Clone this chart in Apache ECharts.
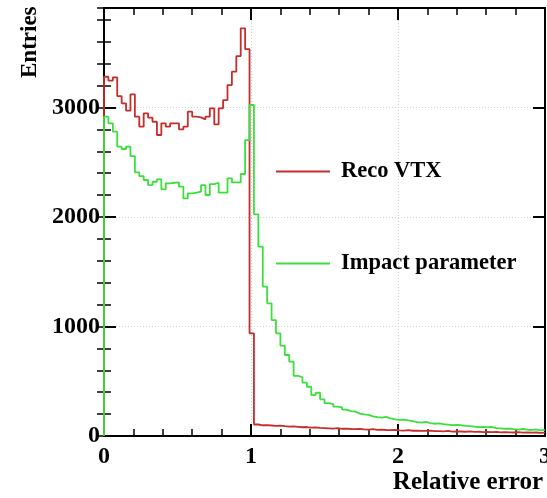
<!DOCTYPE html>
<html>
<head>
<meta charset="utf-8">
<script src="https://cdn.jsdelivr.net/npm/echarts@6/dist/echarts.min.js"></script>
<style>html,body{margin:0;padding:0;background:#fff;}#c{width:547px;height:498px;}</style>
</head>
<body>
<div id="c"></div>
<script>
// Histogram definition: 100 bins from 0 to 3
const histMin = 0;
const histMax = 3;
const nBins = 100;

const recoVtx = [
  3281, 3245, 3276, 3105, 3038, 2971, 3121, 2916, 2825, 2947,
  2907, 2870, 2749, 2856, 2825, 2856, 2856, 2801, 2825, 2962,
  2916, 2910, 2892, 2916, 2993, 2847, 2993, 3068, 3205, 3327,
  3470, 3723, 3534, 938, 105, 98, 100, 96, 92, 95,
  90, 86, 88, 84, 80, 82, 76, 78, 74, 72,
  70, 68, 72, 66, 68, 64, 62, 65, 60, 58,
  62, 56, 58, 55, 54, 56, 52, 50, 53, 48,
  50, 47, 46, 49, 44, 45, 42, 46, 40, 43,
  41, 39, 42, 38, 40, 36, 38, 35, 37, 33,
  36, 34, 32, 35, 31, 33, 30, 32, 29, 31
];

const impactParam = [
  2916, 2856, 2779, 2642, 2621, 2642, 2557, 2408, 2374, 2338,
  2292, 2322, 2344, 2253, 2308, 2313, 2316, 2277, 2171, 2216,
  2222, 2231, 2292, 2201, 2301, 2313, 2222, 2222, 2353, 2316,
  2316, 2393, 2703, 3023, 2025, 1729, 1364, 1212, 1059, 938,
  825, 740, 679, 550, 535, 487, 450, 374, 395, 335,
  300, 290, 268, 262, 240, 228, 222, 205, 198, 192,
  180, 172, 168, 175, 160, 152, 148, 150, 142, 135,
  126, 122, 128, 118, 112, 116, 108, 104, 100, 102,
  98, 92, 90, 86, 80, 84, 80, 82, 72, 70,
  66, 68, 62, 58, 64, 58, 55, 60, 52, 56
];

const seriesNames = ['Reco VTX', 'Impact parameter'];
const seriesColors = ['#c82d2d', '#3ce03c'];
const xTickValues = [0, 1, 2, 3];
const yTickValues = [0, 1000, 2000, 3000];
const yMax = 3909;
const xTitle = 'Relative error';
const yTitle = 'Entries';

function histPoints(vals) {
  const w = (histMax - histMin) / nBins;
  const pts = [[histMin, 0]];
  for (let i = 0; i < vals.length; i++) pts.push([histMin + i * w, vals[i]]);
  pts.push([histMax, vals[vals.length - 1]]);
  return pts;
}

const FONT = '"Liberation Serif", "Times New Roman", serif';
const chart = echarts.init(document.getElementById('c'), null, {renderer: 'canvas'});

const gridL = 104, gridR = 2, gridT = 8, gridB = 62;

function xAxisDef(pos, labels) {
  return {
    type: 'value', position: pos, min: histMin, max: histMax, interval: 1,
    axisLine: {show: true, onZero: false, lineStyle: {color: '#000', width: 2}},
    axisTick: {show: true, inside: true, length: 12, lineStyle: {color: '#000', width: 2}},
    minorTick: {show: true, splitNumber: 5, length: 7, lineStyle: {color: '#000', width: 1.5}},
    axisLabel: labels ? {
      show: true, margin: 9, color: '#000', fontFamily: FONT, fontWeight: 'bold', fontSize: 24,
      showMinLabel: true, showMaxLabel: true, hideOverlap: false,
      formatter: v => (xTickValues.indexOf(v) >= 0 ? String(v) : '')
    } : {show: false},
    splitLine: labels ? {show: true, lineStyle: {color: '#d0d0d0', type: [1, 2], width: 1}} : {show: false}
  };
}

function yMajor(pos, labels) {
  return {
    type: 'value', position: pos, min: 0, max: yMax, interval: 1000,
    axisLine: {show: true, onZero: false, lineStyle: {color: '#000', width: 2}},
    axisTick: {show: true, inside: true, length: 12, lineStyle: {color: '#000', width: 2}},
    axisLabel: labels ? {
      show: true, margin: 4, color: '#000', fontFamily: FONT, fontWeight: 'bold', fontSize: 24,
      showMaxLabel: false, hideOverlap: false,
      formatter: v => (yTickValues.indexOf(v) >= 0 ? String(v) : '')
    } : {show: false},
    splitLine: labels ? {show: true, lineStyle: {color: '#d0d0d0', type: [1, 2], width: 1}} : {show: false}
  };
}

function yMinor(pos) {
  return {
    type: 'value', position: pos, min: 0, max: yMax, interval: 200,
    axisLine: {show: false},
    axisTick: {show: true, inside: true, length: 7, lineStyle: {color: '#000', width: 1.5}},
    axisLabel: {show: false},
    splitLine: {show: false}
  };
}

chart.setOption({
  animation: false,
  backgroundColor: '#fff',
  grid: {left: gridL, right: gridR, top: gridT, bottom: gridB, show: true,
         borderColor: '#000', borderWidth: 2, containLabel: false, outerBoundsMode: 'none'},
  xAxis: [xAxisDef('bottom', true), xAxisDef('top', false)],
  yAxis: [yMajor('left', true), yMinor('left'), yMajor('right', false), yMinor('right')],
  legend: {
    show: true, orient: 'vertical', left: 276, top: 160, padding: 0,
    itemWidth: 54, itemHeight: 2, itemGap: 69, icon: 'rect',
    textStyle: {color: '#000', fontFamily: FONT, fontWeight: 'bold', fontSize: 22.5, lineHeight: 22, padding: [0, 0, 0, 6]},
    data: seriesNames
  },
  series: [
    {
      name: seriesNames[0], type: 'line', step: 'end', xAxisIndex: 0, yAxisIndex: 0,
      showSymbol: false, symbol: 'none', clip: true,
      lineStyle: {color: seriesColors[0], width: 1.8}, itemStyle: {color: seriesColors[0]},
      data: histPoints(recoVtx), z: 2
    },
    {
      name: seriesNames[1], type: 'line', step: 'end', xAxisIndex: 0, yAxisIndex: 0,
      showSymbol: false, symbol: 'none', clip: true,
      lineStyle: {color: seriesColors[1], width: 1.8}, itemStyle: {color: seriesColors[1]},
      data: histPoints(impactParam), z: 3
    }
  ],
  graphic: [
    {
      type: 'text', right: 4, top: 470,
      style: {text: xTitle, fill: '#000', font: 'bold 25px ' + FONT}
    },
    {
      type: 'text', x: 19, y: 78, rotation: Math.PI / 2,
      style: {text: yTitle, fill: '#000', font: 'bold 23px ' + FONT, textAlign: 'left', textVerticalAlign: 'top'}
    }
  ]
});
</script>
</body>
</html>
